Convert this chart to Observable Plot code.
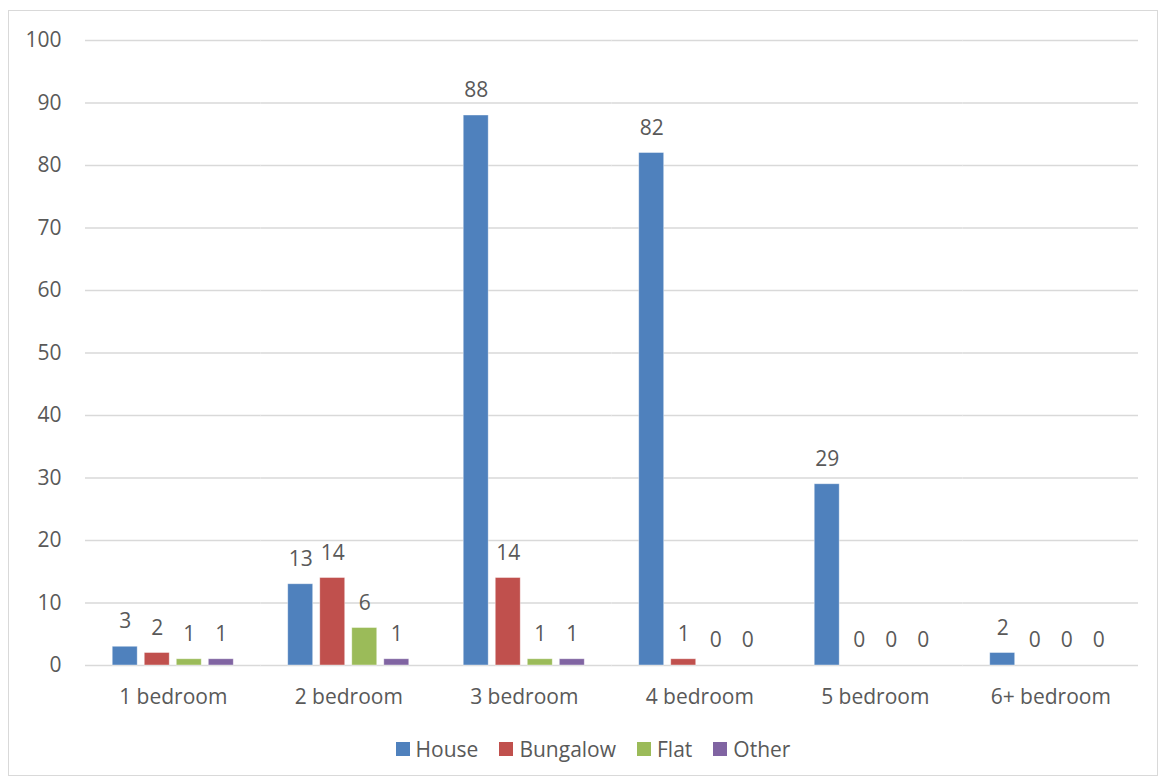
<!DOCTYPE html>
<html>
<head>
<meta charset="utf-8">
<script src="https://cdn.jsdelivr.net/npm/d3@7"></script>
<script src="https://cdn.jsdelivr.net/npm/@observablehq/plot@0.6"></script>
<style>
  html, body { margin: 0; padding: 0; background: #fff; }
  body { width: 1161px; height: 780px; position: relative; overflow: hidden;
         font-family: "Open Sans", sans-serif; color: #595959; }
  #frame { position: absolute; left: 8px; top: 10px; width: 1150px; height: 766px;
           border: 1px solid #d9d9d9; box-sizing: border-box; }
  #chart { position: absolute; left: 0; top: 0; }
  #legend { position: absolute; left: 0; top: 735px; width: 1161px; display: flex;
            justify-content: center; gap: 21px; font-size: 21px; padding-left: 25px; box-sizing: border-box; }
  .item { display: flex; align-items: center; gap: 6px; }
  .sw { width: 14px; height: 14px; display: inline-block; }
</style>
</head>
<body>
<div id="frame"></div>
<div id="chart"></div>
<div id="legend"></div>
<script>
// Dwellings by number of bedrooms and property type
const categories = ["1 bedroom", "2 bedroom", "3 bedroom", "4 bedroom", "5 bedroom", "6+ bedroom"];
const seriesNames = ["House", "Bungalow", "Flat", "Other"];
const house    = [3, 13, 88, 82, 29, 2];
const bungalow = [2, 14, 14, 1, 0, 0];
const flat     = [1, 6, 1, 0, 0, 0];
const other    = [1, 1, 1, 0, 0, 0];
const colors   = ["#4f81bd", "#c0504d", "#9bbb59", "#8064a2"];
const yTicks   = [0, 10, 20, 30, 40, 50, 60, 70, 80, 90, 100];

const seriesValues = [house, bungalow, flat, other];
const rows = [];
categories.forEach((c, i) => {
  seriesNames.forEach((s, j) => rows.push({category: c, series: s, value: seriesValues[j][i]}));
});

const textColor = "#595959";
const chart = Plot.plot({
  width: 1161,
  height: 720,
  marginLeft: 85,
  marginRight: 23,
  marginTop: 40,
  marginBottom: 55,
  style: {fontFamily: "Open Sans, sans-serif", fontSize: "21px", color: textColor, background: "transparent"},
  fx: {domain: categories, padding: 0, round: false, label: null, tickSize: 0, tickPadding: 24},
  x: {domain: seriesNames, paddingInner: 0.22, paddingOuter: 0.85, round: false, axis: null},
  y: {domain: [0, 100], ticks: yTicks, label: null, tickSize: 0, tickPadding: 24},
  color: {domain: seriesNames, range: colors},
  marks: [
    Plot.gridY(yTicks, {stroke: "#d9d9d9", strokeOpacity: 1, strokeWidth: 1.3}),
    Plot.barY(rows, {fx: "category", x: "series", y: "value", fill: "series",
                     stroke: "#ffffff", strokeOpacity: 0.5, strokeWidth: 0.8}),
    Plot.text(rows, {fx: "category", x: "series", y: "value", text: d => String(d.value),
                     dy: -25, fill: textColor, fontSize: 21, lineAnchor: "middle"})
  ]
});
document.getElementById("chart").appendChild(chart);

const legend = document.getElementById("legend");
seriesNames.forEach((s, j) => {
  const item = document.createElement("span");
  item.className = "item";
  const sw = document.createElement("span");
  sw.className = "sw";
  sw.style.background = colors[j];
  const label = document.createElement("span");
  label.textContent = s;
  item.appendChild(sw);
  item.appendChild(label);
  legend.appendChild(item);
});
</script>
</body>
</html>
